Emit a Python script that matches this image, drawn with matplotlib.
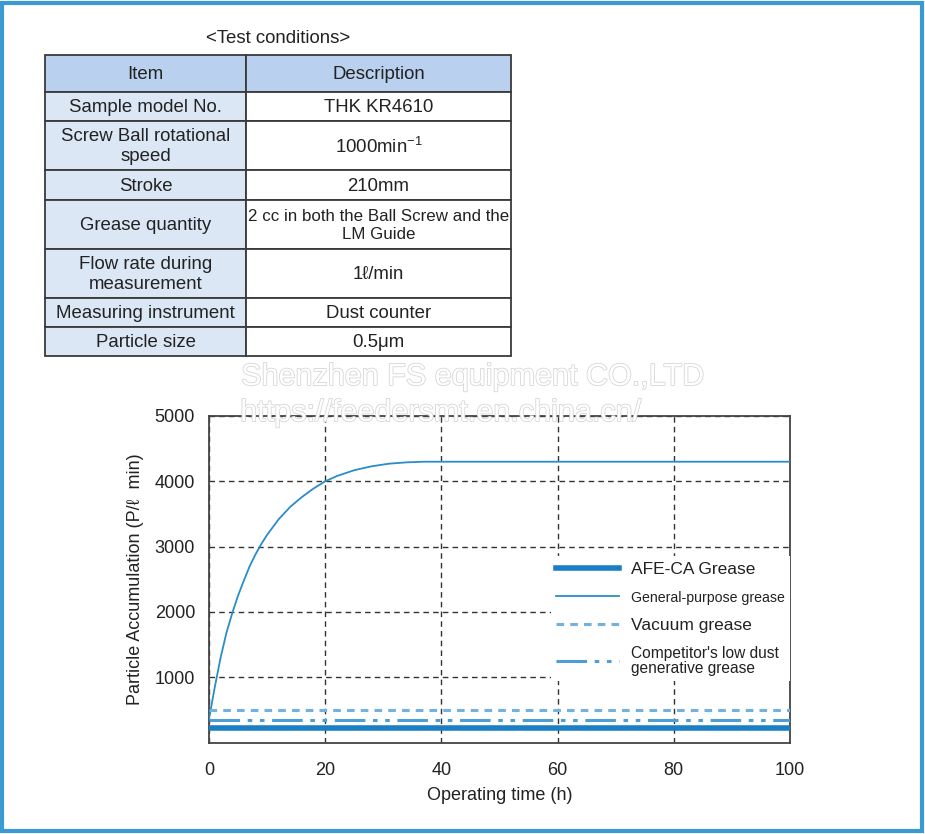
import matplotlib
matplotlib.use("Agg")
import matplotlib.pyplot as plt
from matplotlib.patches import Rectangle
import matplotlib.patheffects as pe

plt.rcParams['font.family'] = ['Liberation Sans', 'DejaVu Sans']
plt.rcParams['mathtext.fontset'] = 'custom'
plt.rcParams['mathtext.rm'] = 'Liberation Sans'
plt.rcParams['mathtext.it'] = 'Liberation Sans'

# ---------------- data ----------------
table_title = "<Test conditions>"
table_header = ["Item", "Description"]
table_items = ["Sample model No.", "Screw Ball rotational\nspeed", "Stroke",
               "Grease quantity", "Flow rate during\nmeasurement",
               "Measuring instrument", "Particle size"]
table_desc = ["THK KR4610", "1000min$^{-1}$", "210mm",
              "2 cc in both the Ball Screw and the\nLM Guide", "1\u2113/min",
              "Dust counter", "0.5\u03bcm"]

hours = [0, 1, 2, 3, 4, 5, 6, 7, 8, 9, 10, 12, 14, 16, 18, 20, 22, 25, 28, 31, 34, 37, 40, 100]
general = [360, 850, 1300, 1680, 1980, 2250, 2480, 2700, 2880, 3040, 3180, 3420, 3610,
           3760, 3890, 4000, 4080, 4170, 4230, 4270, 4290, 4300, 4300, 4300]
flat_hours = [0, 100]
afe = [220, 220]
vacuum = [500, 500]
competitor = [350, 350]

labels = ["AFE-CA Grease", "General-purpose grease", "Vacuum grease",
          "Competitor's low dust\ngenerative grease"]
xticks = [0, 20, 40, 60, 80, 100]
yticks = [1000, 2000, 3000, 4000, 5000]

# ---------------- figure ----------------
W, H = 925, 834
fig = plt.figure(figsize=(W / 100, H / 100), dpi=100)

# overlay axes in pixel coordinates for the table
ov = fig.add_axes([0, 0, 1, 1])
ov.set_xlim(0, W)
ov.set_ylim(H, 0)
ov.axis('off')

xcols = [45, 246, 511]
yrows = [55, 92, 121, 170, 200, 249, 298, 327, 356]
edge = '#3a3a3a'
header_fill = '#b9d1ee'
left_fill = '#dbe7f5'
txtc = '#222222'
fs_tab = 13.4

ov.text((xcols[0] + xcols[2]) / 2, 38, table_title, ha='center', va='center',
        fontsize=fs_tab, color=txtc)
for r in range(len(yrows) - 1):
    y0, y1 = yrows[r], yrows[r + 1]
    for c in range(2):
        if r == 0:
            fc = header_fill
        else:
            fc = left_fill if c == 0 else 'white'
        ov.add_patch(Rectangle((xcols[c], y0), xcols[c + 1] - xcols[c], y1 - y0,
                               facecolor=fc, edgecolor=edge, linewidth=1.3))
        if r == 0:
            s = table_header[c]
        else:
            s = table_items[r - 1] if c == 0 else table_desc[r - 1]
        fs = fs_tab
        if r == 4 and c == 1:
            fs = 12.2
        ov.text((xcols[c] + xcols[c + 1]) / 2, (y0 + y1) / 2 + 1, s, ha='center',
                va='center', fontsize=fs, color=txtc, linespacing=1.2)

# outer blue frame
fig.patches.append(Rectangle((0.0025, 0.004), 0.994, 0.993, transform=fig.transFigure,
                             fill=False, edgecolor='#3b9ad2', linewidth=3))

# ---------------- chart ----------------
ax = fig.add_axes([209 / W, (H - 742.5) / H, 581 / W, 326.5 / H])
c_afe = '#1a7fc4'
c_gen = '#2a8cc8'
c_vac = '#72b2e2'
c_comp = '#4d9dd6'

ax.plot(flat_hours, afe, color=c_afe, lw=4, label=labels[0], zorder=3)
ax.plot(hours, general, color=c_gen, lw=1.3, label=labels[1], zorder=3)
ax.plot(flat_hours, vacuum, color=c_vac, lw=2.2, linestyle=(0, (2.5, 2)), label=labels[2], zorder=3)
ax.plot(flat_hours, competitor, color=c_comp, lw=2.2,
        linestyle=(0, (10, 2.5, 1.5, 2.5, 1.5, 2.5)), label=labels[3], zorder=3)

ax.set_xlim(0, 100)
ax.set_ylim(0, 5000)
ax.set_xticks(xticks)
ax.set_yticks(yticks)
ax.tick_params(axis='y', length=0, labelsize=13, colors=txtc, pad=10)
ax.tick_params(axis='x', length=0, labelsize=13, colors=txtc, pad=14)
ax.grid(True, color='#333333', linestyle=(0, (4, 3)), linewidth=1)
for s in ax.spines.values():
    s.set_color('#444444')
    s.set_linewidth(1.3)
ax.set_xlabel("Operating time (h)", fontsize=13, color=txtc, labelpad=6)
ax.set_ylabel("Particle Accumulation (P/\u2113  min)", fontsize=13, color=txtc, labelpad=8)

leg = ax.legend(loc='upper right', bbox_to_anchor=(1.0, 0.57), frameon=True,
                fancybox=False, framealpha=1, edgecolor='white', fontsize=12.5,
                handlelength=3.6, handletextpad=0.7, labelspacing=0.75,
                borderpad=0.3, borderaxespad=0.0)
leg.get_frame().set_linewidth(0)
tx = leg.get_texts()
for i, t in enumerate(tx):
    t.set_color(txtc)
    t.set_linespacing(0.95)
    if i == 1:
        t.set_fontsize(10.2)
    if i == 3:
        t.set_fontsize(11.2)

# watermark
wm = dict(ha='center', va='center', color='white', zorder=10,
          path_effects=[pe.withStroke(linewidth=1.2, foreground='#d6d6d6')])
fig.text(472 / W, 1 - 377 / H, "Shenzhen FS equipment CO.,LTD", fontsize=22, **wm)
fig.text(440 / W, 1 - 413 / H, "https://feedersmt.en.china.cn/", fontsize=22, **wm)

fig.savefig("out.png", dpi=100)
